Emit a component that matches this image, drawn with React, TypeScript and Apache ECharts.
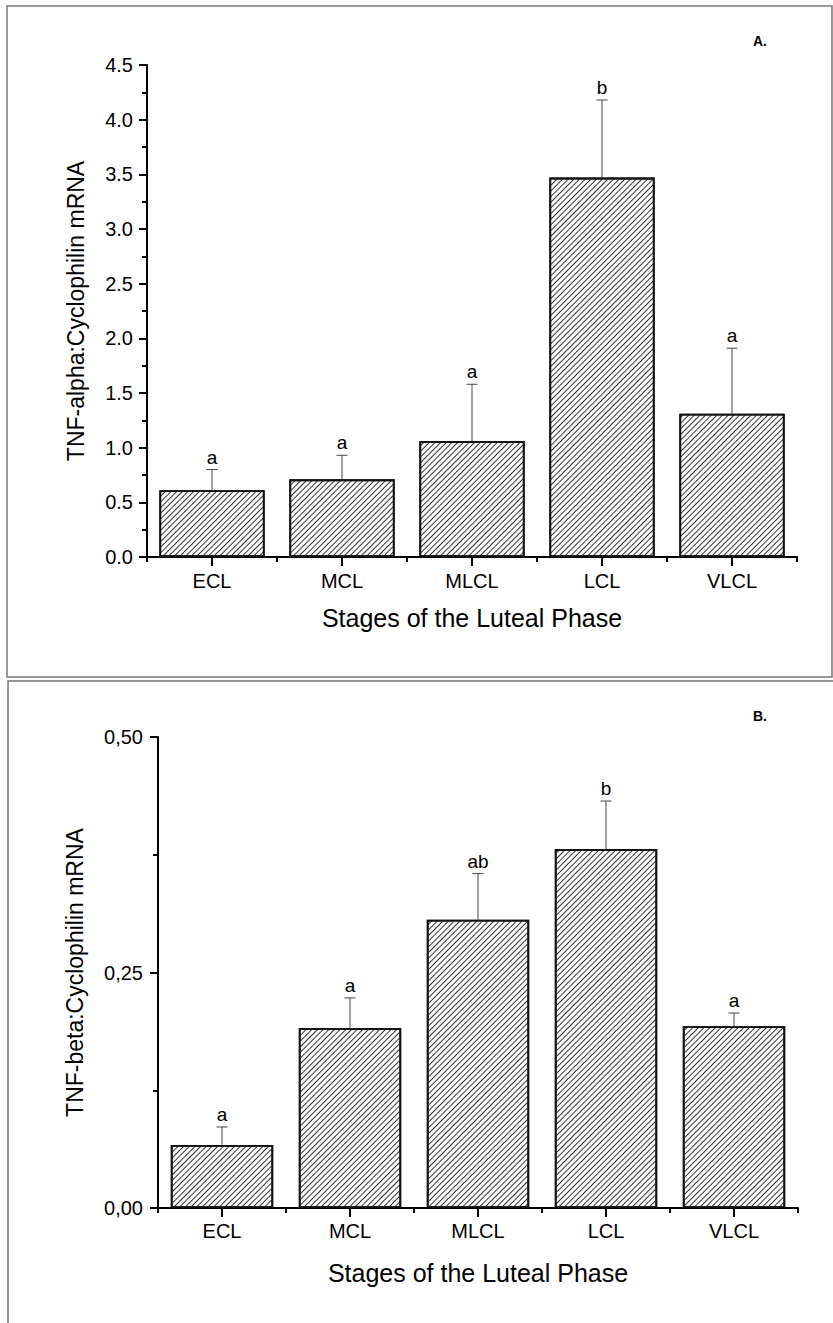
import React, { useEffect, useRef } from 'react';
import * as echarts from 'echarts';

const categories = ['ECL', 'MCL', 'MLCL', 'LCL', 'VLCL'];

const alphaMean = [0.61, 0.71, 1.06, 3.47, 1.31];
const alphaErrTop = [0.8, 0.93, 1.58, 4.18, 1.91];
const alphaLetters = ['a', 'a', 'a', 'b', 'a'];

const betaMean = [0.067, 0.191, 0.306, 0.381, 0.193];
const betaErrTop = [0.086, 0.223, 0.355, 0.432, 0.207];
const betaLetters = ['a', 'a', 'ab', 'b', 'a'];

const yTicksAlpha = { min: 0, max: 4.5, interval: 0.5 };
const yTicksBeta = { min: 0, max: 0.5, interval: 0.25 };

const FONT = '"Liberation Sans", Arial, Helvetica, sans-serif';

function errorSeries(axisIdx: number, means: number[], tops: number[], letters: string[]) {
  return {
    type: 'custom',
    xAxisIndex: axisIdx * 2,
    yAxisIndex: axisIdx,
    clip: false,
    z: 5,
    data: means.map((m, i) => [i, m, tops[i]]),
    renderItem: (params: any, api: any) => {
      const i = api.value(0);
      const base = api.coord([i, api.value(1)]);
      const top = api.coord([i, api.value(2)]);
      return {
        type: 'group',
        children: [
          { type: 'line', shape: { x1: base[0], y1: base[1], x2: top[0], y2: top[1] }, style: { stroke: '#444', lineWidth: 1 } },
          { type: 'line', shape: { x1: top[0] - 5.5, y1: top[1], x2: top[0] + 5.5, y2: top[1] }, style: { stroke: '#444', lineWidth: 1 } },
          {
            type: 'text',
            x: top[0],
            y: top[1] - 3,
            style: { text: letters[params.dataIndex], fill: '#000', font: `19px ${FONT}`, align: 'center', verticalAlign: 'bottom' },
          },
        ],
      };
    },
  };
}

const hatch = {
  symbol: 'rect',
  symbolSize: 1,
  color: '#333',
  backgroundColor: '#fff',
  dashArrayX: [1, 0],
  dashArrayY: [1, 3],
  rotation: -Math.PI / 4,
};

function barSeries(axisIdx: number, values: number[], gap: string) {
  return {
    type: 'bar',
    xAxisIndex: axisIdx * 2,
    yAxisIndex: axisIdx,
    data: values,
    barCategoryGap: gap,
    itemStyle: { color: '#fff', borderColor: '#111', borderWidth: 1.8, decal: hatch },
    z: 2,
  };
}

function xAxes(gridIndex: number, nameGap: number, labelMargin: number) {
  return [
    {
      gridIndex,
      type: 'category',
      data: categories,
      axisLine: { show: true, lineStyle: { color: '#000', width: 2 } },
      axisTick: { show: true, alignWithLabel: true, length: 9, lineStyle: { color: '#000', width: 2 } },
      axisLabel: { color: '#000', fontSize: 20, fontFamily: FONT, margin: labelMargin },
      name: 'Stages of the Luteal Phase',
      nameLocation: 'middle',
      nameGap,
      nameTextStyle: { color: '#000', fontSize: 25, fontFamily: FONT },
      splitLine: { show: false },
    },
    {
      gridIndex,
      type: 'category',
      data: categories,
      position: 'bottom',
      axisLine: { show: false },
      axisTick: { show: true, length: 5, lineStyle: { color: '#000', width: 2 } },
      axisLabel: { show: false },
      splitLine: { show: false },
    },
  ];
}

function yAxis(gridIndex: number, ticks: any, name: string, nameGap: number, labelMargin: number, fmt: (v: number) => string) {
  return {
    gridIndex,
    type: 'value',
    min: ticks.min,
    max: ticks.max,
    interval: ticks.interval,
    axisLine: { show: true, lineStyle: { color: '#000', width: 2 } },
    axisTick: { show: true, length: 8, lineStyle: { color: '#000', width: 2 } },
    minorTick: { show: true, splitNumber: 2, length: 5, lineStyle: { color: '#000', width: 2 } },
    splitLine: { show: false },
    minorSplitLine: { show: false },
    axisLabel: { color: '#000', fontSize: 20, fontFamily: FONT, margin: labelMargin, formatter: fmt },
    name,
    nameLocation: 'middle',
    nameRotate: 90,
    nameGap,
    nameTextStyle: { color: '#000', fontSize: 23, fontFamily: FONT },
  };
}

export default function App() {
  const ref = useRef<HTMLDivElement>(null);
  useEffect(() => {
    if (!ref.current) return;
    const chart = echarts.init(ref.current, undefined, { renderer: 'svg' });
    chart.setOption({
      animation: false,
      backgroundColor: '#fff',
      grid: [
        { left: 147, top: 65, width: 650, height: 492 },
        { left: 158, top: 737, width: 640, height: 471 },
      ],
      xAxis: [...xAxes(0, 48, 14), ...xAxes(1, 52, 13)],
      yAxis: [
        yAxis(0, yTicksAlpha, 'TNF-alpha:Cyclophilin mRNA', 60, 14, (v: number) => v.toFixed(1)),
        yAxis(1, yTicksBeta, 'TNF-beta:Cyclophilin mRNA', 72, 15, (v: number) => v.toFixed(2).replace('.', ',')),
      ],
      series: [
        barSeries(0, alphaMean, '19%'),
        errorSeries(0, alphaMean, alphaErrTop, alphaLetters),
        barSeries(1, betaMean, '20%'),
        errorSeries(1, betaMean, betaErrTop, betaLetters),
      ],
      graphic: [
        { type: 'rect', shape: { x: 7, y: 6, width: 825, height: 671 }, style: { fill: 'none', stroke: '#777', lineWidth: 1.5 }, silent: true },
        { type: 'rect', shape: { x: 8, y: 681, width: 840, height: 700 }, style: { fill: 'none', stroke: '#777', lineWidth: 1.5 }, silent: true },
        { type: 'text', x: 760, y: 41, style: { text: 'A.', font: `bold 14px ${FONT}`, fill: '#000', align: 'center', verticalAlign: 'middle' } },
        { type: 'text', x: 760, y: 716, style: { text: 'B.', font: `bold 14px ${FONT}`, fill: '#000', align: 'center', verticalAlign: 'middle' } },
      ],
    });
    return () => chart.dispose();
  }, []);
  return <div ref={ref} style={{ position: 'absolute', left: 0, top: 0, width: 833, height: 1323 }} />;
}
